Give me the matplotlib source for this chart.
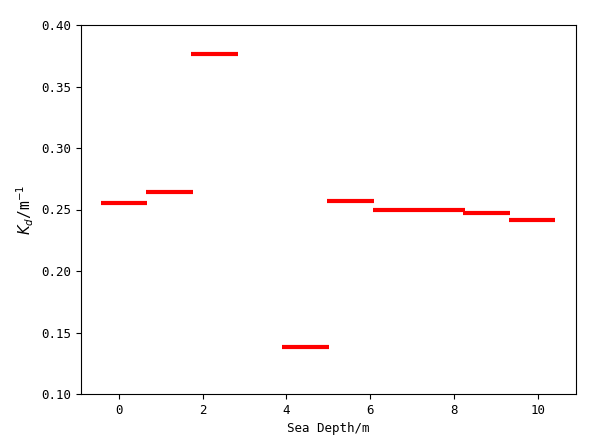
import matplotlib
matplotlib.use("Agg")
import matplotlib.pyplot as plt

# layer edges (sea depth, m) and attenuation coefficient Kd for each layer
depth_start = [-0.42, 0.66, 1.73, 3.90, 4.97, 6.06, 7.14, 8.21, 9.30]
depth_end = [0.67, 1.77, 2.85, 5.01, 6.09, 7.14, 8.26, 9.33, 10.40]
kd = [0.2554, 0.2644, 0.3766, 0.1382, 0.2571, 0.2498, 0.2498, 0.2473, 0.2416]

plt.rcParams['font.family'] = ['DejaVu Sans Mono', 'DejaVu Sans']
plt.rcParams['axes.unicode_minus'] = False

fig = plt.figure(figsize=(6.02, 4.47), dpi=100)
ax = fig.add_axes([81 / 602, 53 / 447, 495 / 602, 369 / 447])

ax.hlines(kd, depth_start, depth_end, colors='red', linewidth=3)

ax.set_xlim(-0.90, 10.91)
ax.set_ylim(0.10, 0.40)
ax.set_xticks([0, 2, 4, 6, 8, 10])
ax.set_yticks([0.10, 0.15, 0.20, 0.25, 0.30, 0.35, 0.40])
ax.tick_params(labelsize=9)
ax.set_xlabel('Sea Depth/m', fontsize=9)
ax.set_ylabel('$K_d$/m$^{-1}$', fontsize=10.5)

fig.savefig('out.png', dpi=100)
